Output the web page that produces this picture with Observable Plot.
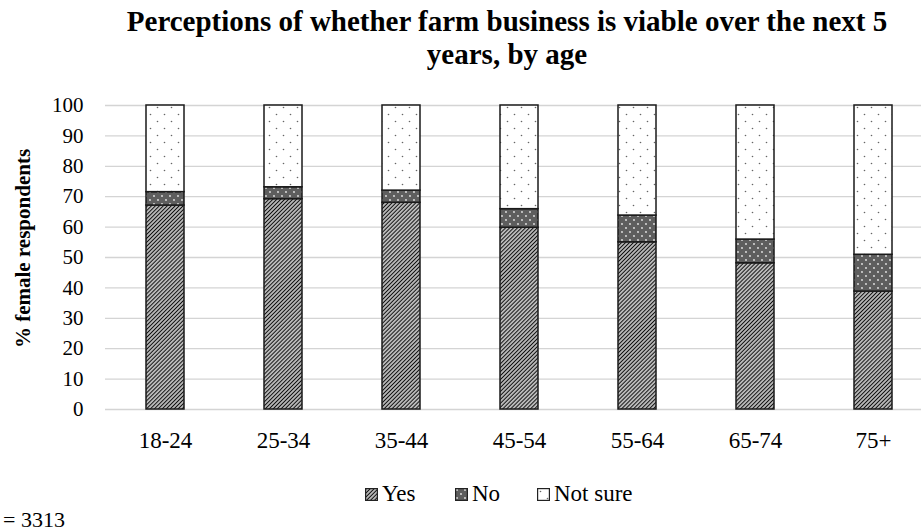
<!DOCTYPE html>
<html>
<head>
<meta charset="utf-8">
<script src="https://cdn.jsdelivr.net/npm/d3@7"></script>
<script src="https://cdn.jsdelivr.net/npm/@observablehq/plot@0.6"></script>
<style>
  html, body { margin: 0; padding: 0; background: #fff; overflow: hidden; }
  #wrap { position: relative; width: 921px; height: 532px; font-family: "Liberation Serif", "Times New Roman", serif; color: #000; }
  #title { position: absolute; left: 57px; width: 900px; top: 5px; text-align: center; font-weight: bold; font-size: 29px; line-height: 33px; }
  #chart { position: absolute; left: 0; top: 90px; }
  #legend { position: absolute; top: 481px; left: 0; width: 921px; height: 30px; font-size: 23px; }
  #legend .item { position: absolute; top: 0; display: flex; align-items: center; }
  #legend svg { margin-right: 4px; }
  #note { position: absolute; left: 3px; top: 507px; font-size: 22px; }
</style>
</head>
<body>
<svg width="0" height="0" style="position:absolute">
  <defs>
    <pattern id="hatchYes" width="2.8" height="2.8" patternUnits="userSpaceOnUse" patternTransform="rotate(45)">
      <rect width="2.8" height="2.8" fill="#fff"/>
      <line x1="1.4" y1="0" x2="1.4" y2="2.8" stroke="#111" stroke-width="1.5"/>
    </pattern>
    <pattern id="dotsNo" width="8" height="8" patternUnits="userSpaceOnUse">
      <rect width="8" height="8" fill="#5e5e5e"/>
      <circle cx="2" cy="2" r="0.9" fill="#e8e8e8"/>
      <circle cx="6" cy="6" r="0.9" fill="#e8e8e8"/>
    </pattern>
    <pattern id="dotsNotSure" width="14" height="14" patternUnits="userSpaceOnUse">
      <rect width="14" height="14" fill="#fff"/>
      <circle cx="3.5" cy="3.5" r="0.8" fill="#666"/>
      <circle cx="10.5" cy="10.5" r="0.8" fill="#666"/>
    </pattern>
  </defs>
</svg>
<div id="wrap">
  <div id="title">Perceptions of whether farm business is viable over the next 5<br>years, by age</div>
  <div id="chart"></div>
  <div id="legend"></div>
  <div id="note">= 3313</div>
</div>
<script>
// Age groups and the share of female respondents giving each answer (%)
const ageGroups = ["18-24", "25-34", "35-44", "45-54", "55-64", "65-74", "75+"];
const seriesNames = ["Yes", "No", "Not sure"];
const yesValues = [67.1, 69.2, 68.0, 59.8, 55.0, 48.1, 38.8];
const noValues = [4.4, 3.9, 4.0, 6.1, 8.8, 7.8, 12.1];
const notSureValues = yesValues.map((v, i) => +(100 - v - noValues[i]).toFixed(1));
const yTicks = [0, 10, 20, 30, 40, 50, 60, 70, 80, 90, 100];
const yLabel = "% female respondents";
const seriesFills = ["url(#hatchYes)", "url(#dotsNo)", "url(#dotsNotSure)"];

const rows = [];
ageGroups.forEach((age, i) => {
  rows.push({age, series: "Yes", value: yesValues[i]});
  rows.push({age, series: "No", value: noValues[i]});
  rows.push({age, series: "Not sure", value: notSureValues[i]});
});

const chart = Plot.plot({
  width: 921,
  height: 380,
  marginTop: 15,
  marginBottom: 61,
  marginLeft: 105,
  marginRight: 0,
  style: {fontFamily: "'Liberation Serif', 'Times New Roman', serif", color: "#000", background: "#fff", overflow: "visible"},
  x: {type: "band", domain: ageGroups, range: [105, 933], paddingInner: 0.68, paddingOuter: 0.34, label: null},
  y: {domain: [0, 100], label: null},
  color: {type: "ordinal", domain: seriesNames, range: seriesFills},
  marks: [
    Plot.ruleY(yTicks, {stroke: "#d4d4d4", strokeWidth: 1.3}),
    Plot.barY(rows, {
      x: "age", y: "value", z: "series", fill: "series",
      order: seriesNames, stroke: "#1a1a1a", strokeWidth: 1.5
    }),
    Plot.axisY(yTicks, {tickSize: 0, tickPadding: 22, fontSize: 21, label: null}),
    Plot.axisX({tickSize: 0, tickPadding: 22, fontSize: 23, label: null}),
    Plot.text([yLabel], {
      frameAnchor: "left", textAnchor: "middle", rotate: -90, dx: -82, dy: -9,
      fontSize: 21, fontWeight: "bold", fill: "#000"
    })
  ]
});
document.getElementById("chart").appendChild(chart);

// Legend with patterned swatches
const legendPos = [{sx: 365, tx: 383}, {sx: 455, tx: 470}, {sx: 537, tx: 552}];
const legend = document.getElementById("legend");
seriesNames.forEach((name, i) => {
  const item = document.createElement("div");
  item.className = "item";
  item.style.left = legendPos[i].sx + "px";
  item.innerHTML = `<svg width="13" height="13"><rect x="0.6" y="0.6" width="11.8" height="11.8" fill="${seriesFills[i]}" stroke="#222" stroke-width="1.2"/></svg><span>${name}</span>`;
  legend.appendChild(item);
});
</script>
</body>
</html>
